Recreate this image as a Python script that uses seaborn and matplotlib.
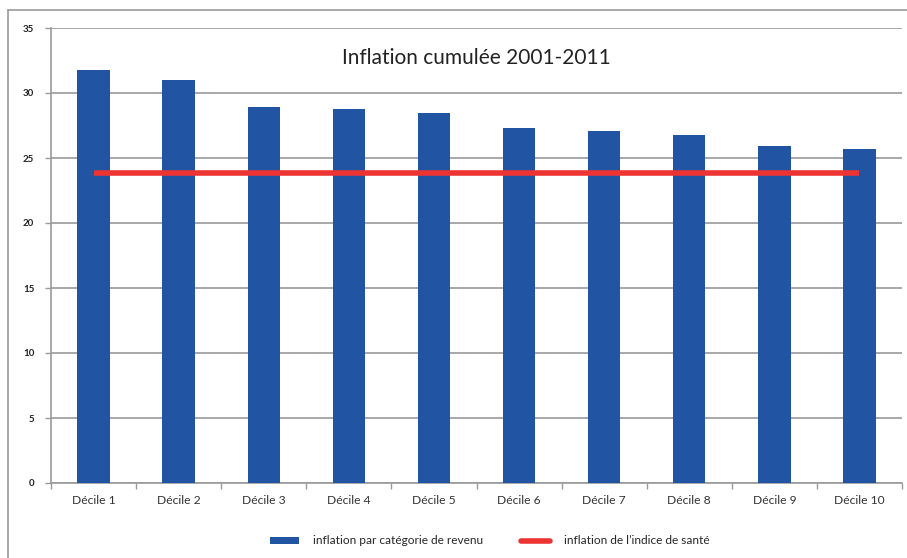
import matplotlib
matplotlib.use("Agg")
import matplotlib.pyplot as plt
import seaborn as sns
import pandas as pd
from matplotlib.lines import Line2D
from matplotlib.patches import Patch

categories = ["Décile 1", "Décile 2", "Décile 3", "Décile 4", "Décile 5",
              "Décile 6", "Décile 7", "Décile 8", "Décile 9", "Décile 10"]
inflation_revenu = [31.8, 31.0, 28.9, 28.8, 28.5, 27.3, 27.1, 26.8, 25.9, 25.7]
inflation_sante = [23.85] * 10
yticks = [0, 5, 10, 15, 20, 25, 30, 35]
title = "Inflation cumulée 2001-2011"
label_bar = "inflation par catégorie de revenu"
label_line = "inflation de l’indice de santé"

sns.set_theme(style="white")
plt.rcParams['font.family'] = ['Lato', 'DejaVu Sans']

blue = "#2155A3"
red = "#EE3333"
grid = "#9A9A9A"

df = pd.DataFrame({"cat": categories, "rev": inflation_revenu, "sante": inflation_sante})

fig = plt.figure(figsize=(9.07, 5.58), dpi=100)
ax = fig.add_axes([51/907, 1-483/558, (902-51)/907, (483-28)/558])

sns.barplot(data=df, x="cat", y="rev", color=blue, width=0.38, ax=ax,
            saturation=1, edgecolor="none", zorder=3)
ax.plot(range(len(categories)), df["sante"], color=red, lw=4, zorder=4,
        solid_capstyle="butt")

ax.set_ylim(0, 35)
ax.set_xlim(-0.5, len(categories) - 0.5)
ax.set_yticks(yticks)
ax.set_yticklabels([str(v) for v in yticks], fontsize=7, fontweight="bold", color="#222222")
ax.set_xticks(range(len(categories)))
ax.set_xticklabels(categories, fontsize=8.7, color="#333333")
ax.tick_params(axis="x", which="major", length=0, pad=9)
ax.tick_params(axis="y", length=4, color=grid, width=1, pad=8, left=True)
ax.set_xticks([i + 0.5 for i in range(-1, len(categories))], minor=True)
ax.tick_params(axis="x", which="minor", length=4, color=grid, width=1, bottom=True, direction="out")
ax.set_xlabel("")
ax.set_ylabel("")

ax.yaxis.grid(True, color=grid, lw=1.2, zorder=0)
ax.set_axisbelow(True)
for s in ["top", "right"]:
    ax.spines[s].set_visible(False)
for s in ["left", "bottom"]:
    ax.spines[s].set_color(grid)
    ax.spines[s].set_linewidth(1.2)

ax.text(0.5, 0.935, title, transform=ax.transAxes, ha="center", va="center",
        fontsize=15, color="#222222", zorder=5)

handles = [Patch(facecolor=blue, edgecolor="none"),
           Line2D([0], [0], color=red, lw=4)]
fig.legend(handles, [label_bar, label_line], loc="center", bbox_to_anchor=(490/907, 1-541/558),
           ncol=2, frameon=False, fontsize=8.6, handlelength=2.4, handleheight=0.5,
           columnspacing=3.2, handletextpad=1.2)

# outer border (left and top)
fig.add_artist(Line2D([8/907, 8/907], [0, 1-10/558], transform=fig.transFigure, color=grid, lw=1.2))
fig.add_artist(Line2D([8/907, 1], [1-10/558, 1-10/558], transform=fig.transFigure, color=grid, lw=1.2))

fig.savefig("out.png", dpi=100)
